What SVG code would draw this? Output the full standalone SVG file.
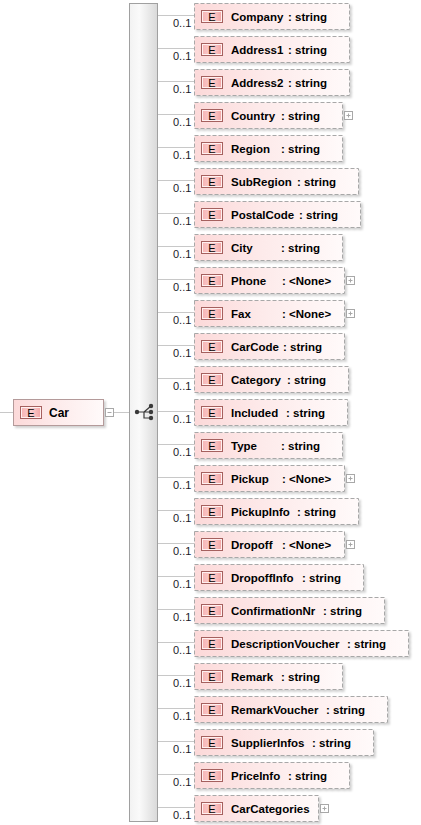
<svg xmlns="http://www.w3.org/2000/svg" width="421" height="825" viewBox="0 0 421 825">
  <style>
    .bg { fill: #ffffff; }
    .conn { stroke: #c8c8c8; stroke-width: 1; fill: none; }
    .elem { fill: url(#pinkFill); stroke: #a8a8a8; stroke-width: 1; stroke-dasharray: 4 2; filter: url(#shadow); }
    .root { fill: url(#pinkFill); stroke: #b49a9a; stroke-width: 1; filter: url(#shadow); }
    .badge { fill: url(#badgeFill); stroke: #a5605e; stroke-width: 1; }
    .badgeHi { fill: none; stroke: #fff0f0; stroke-width: 1; }
    .badgeText { font-family: "Liberation Sans", Arial, sans-serif; font-size: 11px; fill: #000; text-anchor: middle; }
    .label { font-family: "Liberation Sans", Arial, sans-serif; font-size: 11.5px; font-weight: bold; fill: #000; }
    .typeEnd { text-anchor: end; }
    .occ { font-family: "Liberation Sans", Arial, sans-serif; font-size: 11px; fill: #1a1a2a; }
    .tog { fill: #ffffff; stroke: #a8a8a8; stroke-width: 1; }
    .togMark { stroke: #a8a8a8; stroke-width: 1; fill: none; }
    .seqBar { fill: url(#barFill); stroke: #a0a0a0; stroke-width: 1; }
    .dot { fill: #3a3a3a; }
    .seqLine { stroke: #3a3a3a; stroke-width: 1.2; fill: none; }
  </style>
  <defs>
    <linearGradient id="pinkFill" x1="0" y1="0" x2="1" y2="0">
      <stop offset="0" stop-color="#fcd9d9"/>
      <stop offset="0.45" stop-color="#fdeaea"/>
      <stop offset="1" stop-color="#fffafa"/>
    </linearGradient>
    <linearGradient id="badgeFill" x1="0" y1="0" x2="1" y2="0">
      <stop offset="0" stop-color="#f6b2b2"/>
      <stop offset="0.5" stop-color="#fbd0d0"/>
      <stop offset="1" stop-color="#f2a2a2"/>
    </linearGradient>
    <linearGradient id="barFill" x1="0" y1="0" x2="1" y2="0">
      <stop offset="0" stop-color="#f2f2f2"/>
      <stop offset="0.35" stop-color="#fafafa"/>
      <stop offset="1" stop-color="#d9d9d9"/>
    </linearGradient>
    <filter id="shadow" x="-10%" y="-20%" width="130%" height="160%">
      <feDropShadow dx="2" dy="2" stdDeviation="1" flood-color="#000" flood-opacity="0.18"/>
    </filter>
    <g id="plusBox">
      <rect class="tog" x="0" y="0" width="8" height="8"/>
      <path class="togMark" d="M2 4 H6 M4 2 V6"/>
    </g>
  </defs>

  <rect class="bg" x="0" y="0" width="421" height="825"/>

  <!-- connectors -->
  <g id="connectors">
    <path class="conn" d="M0 412.5 H13.5"/>
    <path class="conn" d="M113.5 412.5 H136"/>
    <path class="conn" d="M157.5 15.5 H194 M157.5 48.5 H194 M157.5 81.5 H194 M157.5 114.5 H194 M157.5 147.5 H194 M157.5 180.5 H194 M157.5 213.5 H194 M157.5 246.5 H194 M157.5 279.5 H194 M157.5 312.5 H194 M157.5 345.5 H194 M157.5 378.5 H194 M153 411.5 H194 M157.5 444.5 H194 M157.5 477.5 H194 M157.5 510.5 H194 M157.5 543.5 H194 M157.5 576.5 H194 M157.5 609.5 H194 M157.5 642.5 H194 M157.5 675.5 H194 M157.5 708.5 H194 M157.5 741.5 H194 M157.5 774.5 H194 M157.5 807.5 H194"/>
  </g>

  <!-- root element -->
  <g id="car">
    <rect class="root" x="13.5" y="399.5" width="90" height="26"/>
    <rect class="badge" x="20.5" y="406.5" width="21" height="12"/>
    <rect class="badgeHi" x="21.5" y="407.5" width="19" height="10"/>
    <text class="badgeText" x="31" y="416.5">E</text>
    <text class="label" x="49" y="416.5" style="font-size:12px">Car</text>
    <rect class="tog" x="105.5" y="408.5" width="8" height="8"/>
    <path class="togMark" d="M107.5 412.5 H111.5"/>
  </g>

  <!-- sequence compositor -->
  <g id="sequence">
    <rect class="seqBar" x="129.5" y="3.5" width="28" height="818"/>
    <path class="seqLine" d="M137 412 H144 M144 412 L151 406 M144 412 H151 M144 412 V418 H151"/>
    <circle class="dot" cx="137" cy="412" r="2.2"/>
    <circle class="dot" cx="151" cy="406" r="2.2"/>
    <circle class="dot" cx="151" cy="412" r="2.2"/>
    <circle class="dot" cx="151" cy="418" r="2.2"/>
  </g>

  <!-- child elements -->
  <g id="company">
    <rect class="elem" x="194.5" y="3.5" width="155" height="26"/>
    <rect class="badge" x="201.5" y="10.5" width="21" height="12"/><rect class="badgeHi" x="202.5" y="11.5" width="19" height="10"/>
    <text class="badgeText" x="212" y="20.5">E</text>
    <text class="label"><tspan x="231" y="21">Company</tspan><tspan class="typeEnd" x="327" y="21">: string</tspan></text>
    <text class="occ" x="173" y="27">0..1</text>
  </g>
  <g id="address1">
    <rect class="elem" x="194.5" y="36.5" width="155" height="26"/>
    <rect class="badge" x="201.5" y="43.5" width="21" height="12"/><rect class="badgeHi" x="202.5" y="44.5" width="19" height="10"/>
    <text class="badgeText" x="212" y="53.5">E</text>
    <text class="label"><tspan x="231" y="54">Address1</tspan><tspan class="typeEnd" x="327" y="54">: string</tspan></text>
    <text class="occ" x="173" y="60">0..1</text>
  </g>
  <g id="address2">
    <rect class="elem" x="194.5" y="69.5" width="155" height="26"/>
    <rect class="badge" x="201.5" y="76.5" width="21" height="12"/><rect class="badgeHi" x="202.5" y="77.5" width="19" height="10"/>
    <text class="badgeText" x="212" y="86.5">E</text>
    <text class="label"><tspan x="231" y="87">Address2</tspan><tspan class="typeEnd" x="327" y="87">: string</tspan></text>
    <text class="occ" x="173" y="93">0..1</text>
  </g>
  <g id="country">
    <rect class="elem" x="194.5" y="102.5" width="148" height="26"/>
    <rect class="badge" x="201.5" y="109.5" width="21" height="12"/><rect class="badgeHi" x="202.5" y="110.5" width="19" height="10"/>
    <text class="badgeText" x="212" y="119.5">E</text>
    <text class="label"><tspan x="231" y="120">Country</tspan><tspan class="typeEnd" x="320" y="120">: string</tspan></text>
    <use href="#plusBox" x="344.5" y="111.5"/>
    <text class="occ" x="173" y="126">0..1</text>
  </g>
  <g id="region">
    <rect class="elem" x="194.5" y="135.5" width="148" height="26"/>
    <rect class="badge" x="201.5" y="142.5" width="21" height="12"/><rect class="badgeHi" x="202.5" y="143.5" width="19" height="10"/>
    <text class="badgeText" x="212" y="152.5">E</text>
    <text class="label"><tspan x="231" y="153">Region</tspan><tspan class="typeEnd" x="320" y="153">: string</tspan></text>
    <text class="occ" x="173" y="159">0..1</text>
  </g>
  <g id="subregion">
    <rect class="elem" x="194.5" y="168.5" width="164" height="26"/>
    <rect class="badge" x="201.5" y="175.5" width="21" height="12"/><rect class="badgeHi" x="202.5" y="176.5" width="19" height="10"/>
    <text class="badgeText" x="212" y="185.5">E</text>
    <text class="label"><tspan x="231" y="186">SubRegion</tspan><tspan class="typeEnd" x="336" y="186">: string</tspan></text>
    <text class="occ" x="173" y="192">0..1</text>
  </g>
  <g id="postalcode">
    <rect class="elem" x="194.5" y="201.5" width="166" height="26"/>
    <rect class="badge" x="201.5" y="208.5" width="21" height="12"/><rect class="badgeHi" x="202.5" y="209.5" width="19" height="10"/>
    <text class="badgeText" x="212" y="218.5">E</text>
    <text class="label"><tspan x="231" y="219">PostalCode</tspan><tspan class="typeEnd" x="338" y="219">: string</tspan></text>
    <text class="occ" x="173" y="225">0..1</text>
  </g>
  <g id="city">
    <rect class="elem" x="194.5" y="234.5" width="148" height="26"/>
    <rect class="badge" x="201.5" y="241.5" width="21" height="12"/><rect class="badgeHi" x="202.5" y="242.5" width="19" height="10"/>
    <text class="badgeText" x="212" y="251.5">E</text>
    <text class="label"><tspan x="231" y="252">City</tspan><tspan class="typeEnd" x="320" y="252">: string</tspan></text>
    <text class="occ" x="173" y="258">0..1</text>
  </g>
  <g id="phone">
    <rect class="elem" x="194.5" y="267.5" width="150" height="26"/>
    <rect class="badge" x="201.5" y="274.5" width="21" height="12"/><rect class="badgeHi" x="202.5" y="275.5" width="19" height="10"/>
    <text class="badgeText" x="212" y="284.5">E</text>
    <text class="label"><tspan x="231" y="285">Phone</tspan><tspan x="282" y="285">: &lt;None&gt;</tspan></text>
    <use href="#plusBox" x="346.5" y="276.5"/>
    <text class="occ" x="173" y="291">0..1</text>
  </g>
  <g id="fax">
    <rect class="elem" x="194.5" y="300.5" width="150" height="26"/>
    <rect class="badge" x="201.5" y="307.5" width="21" height="12"/><rect class="badgeHi" x="202.5" y="308.5" width="19" height="10"/>
    <text class="badgeText" x="212" y="317.5">E</text>
    <text class="label"><tspan x="231" y="318">Fax</tspan><tspan x="282" y="318">: &lt;None&gt;</tspan></text>
    <use href="#plusBox" x="346.5" y="309.5"/>
    <text class="occ" x="173" y="324">0..1</text>
  </g>
  <g id="carcode">
    <rect class="elem" x="194.5" y="333.5" width="150" height="26"/>
    <rect class="badge" x="201.5" y="340.5" width="21" height="12"/><rect class="badgeHi" x="202.5" y="341.5" width="19" height="10"/>
    <text class="badgeText" x="212" y="350.5">E</text>
    <text class="label"><tspan x="231" y="351">CarCode</tspan><tspan class="typeEnd" x="322" y="351">: string</tspan></text>
    <text class="occ" x="173" y="357">0..1</text>
  </g>
  <g id="category">
    <rect class="elem" x="194.5" y="366.5" width="154" height="26"/>
    <rect class="badge" x="201.5" y="373.5" width="21" height="12"/><rect class="badgeHi" x="202.5" y="374.5" width="19" height="10"/>
    <text class="badgeText" x="212" y="383.5">E</text>
    <text class="label"><tspan x="231" y="384">Category</tspan><tspan class="typeEnd" x="326" y="384">: string</tspan></text>
    <text class="occ" x="173" y="390">0..1</text>
  </g>
  <g id="included">
    <rect class="elem" x="194.5" y="399.5" width="153" height="26"/>
    <rect class="badge" x="201.5" y="406.5" width="21" height="12"/><rect class="badgeHi" x="202.5" y="407.5" width="19" height="10"/>
    <text class="badgeText" x="212" y="416.5">E</text>
    <text class="label"><tspan x="231" y="417">Included</tspan><tspan class="typeEnd" x="325" y="417">: string</tspan></text>
    <text class="occ" x="173" y="423">0..1</text>
  </g>
  <g id="type">
    <rect class="elem" x="194.5" y="432.5" width="148" height="26"/>
    <rect class="badge" x="201.5" y="439.5" width="21" height="12"/><rect class="badgeHi" x="202.5" y="440.5" width="19" height="10"/>
    <text class="badgeText" x="212" y="449.5">E</text>
    <text class="label"><tspan x="231" y="450">Type</tspan><tspan class="typeEnd" x="320" y="450">: string</tspan></text>
    <text class="occ" x="173" y="456">0..1</text>
  </g>
  <g id="pickup">
    <rect class="elem" x="194.5" y="465.5" width="150" height="26"/>
    <rect class="badge" x="201.5" y="472.5" width="21" height="12"/><rect class="badgeHi" x="202.5" y="473.5" width="19" height="10"/>
    <text class="badgeText" x="212" y="482.5">E</text>
    <text class="label"><tspan x="231" y="483">Pickup</tspan><tspan x="282" y="483">: &lt;None&gt;</tspan></text>
    <use href="#plusBox" x="346.5" y="474.5"/>
    <text class="occ" x="173" y="489">0..1</text>
  </g>
  <g id="pickupinfo">
    <rect class="elem" x="194.5" y="498.5" width="164" height="26"/>
    <rect class="badge" x="201.5" y="505.5" width="21" height="12"/><rect class="badgeHi" x="202.5" y="506.5" width="19" height="10"/>
    <text class="badgeText" x="212" y="515.5">E</text>
    <text class="label"><tspan x="231" y="516">PickupInfo</tspan><tspan class="typeEnd" x="336" y="516">: string</tspan></text>
    <text class="occ" x="173" y="522">0..1</text>
  </g>
  <g id="dropoff">
    <rect class="elem" x="194.5" y="531.5" width="150" height="26"/>
    <rect class="badge" x="201.5" y="538.5" width="21" height="12"/><rect class="badgeHi" x="202.5" y="539.5" width="19" height="10"/>
    <text class="badgeText" x="212" y="548.5">E</text>
    <text class="label"><tspan x="231" y="549">Dropoff</tspan><tspan x="282" y="549">: &lt;None&gt;</tspan></text>
    <use href="#plusBox" x="346.5" y="540.5"/>
    <text class="occ" x="173" y="555">0..1</text>
  </g>
  <g id="dropoffinfo">
    <rect class="elem" x="194.5" y="564.5" width="169" height="26"/>
    <rect class="badge" x="201.5" y="571.5" width="21" height="12"/><rect class="badgeHi" x="202.5" y="572.5" width="19" height="10"/>
    <text class="badgeText" x="212" y="581.5">E</text>
    <text class="label"><tspan x="231" y="582">DropoffInfo</tspan><tspan class="typeEnd" x="341" y="582">: string</tspan></text>
    <text class="occ" x="173" y="588">0..1</text>
  </g>
  <g id="confirmationnr">
    <rect class="elem" x="194.5" y="597.5" width="190" height="26"/>
    <rect class="badge" x="201.5" y="604.5" width="21" height="12"/><rect class="badgeHi" x="202.5" y="605.5" width="19" height="10"/>
    <text class="badgeText" x="212" y="614.5">E</text>
    <text class="label"><tspan x="231" y="615">ConfirmationNr</tspan><tspan class="typeEnd" x="362" y="615">: string</tspan></text>
    <text class="occ" x="173" y="621">0..1</text>
  </g>
  <g id="descriptionvoucher">
    <rect class="elem" x="194.5" y="630.5" width="214" height="26"/>
    <rect class="badge" x="201.5" y="637.5" width="21" height="12"/><rect class="badgeHi" x="202.5" y="638.5" width="19" height="10"/>
    <text class="badgeText" x="212" y="647.5">E</text>
    <text class="label"><tspan x="231" y="648">DescriptionVoucher</tspan><tspan class="typeEnd" x="386" y="648">: string</tspan></text>
    <text class="occ" x="173" y="654">0..1</text>
  </g>
  <g id="remark">
    <rect class="elem" x="194.5" y="663.5" width="148" height="26"/>
    <rect class="badge" x="201.5" y="670.5" width="21" height="12"/><rect class="badgeHi" x="202.5" y="671.5" width="19" height="10"/>
    <text class="badgeText" x="212" y="680.5">E</text>
    <text class="label"><tspan x="231" y="681">Remark</tspan><tspan class="typeEnd" x="320" y="681">: string</tspan></text>
    <text class="occ" x="173" y="687">0..1</text>
  </g>
  <g id="remarkvoucher">
    <rect class="elem" x="194.5" y="696.5" width="193" height="26"/>
    <rect class="badge" x="201.5" y="703.5" width="21" height="12"/><rect class="badgeHi" x="202.5" y="704.5" width="19" height="10"/>
    <text class="badgeText" x="212" y="713.5">E</text>
    <text class="label"><tspan x="231" y="714">RemarkVoucher</tspan><tspan class="typeEnd" x="365" y="714">: string</tspan></text>
    <text class="occ" x="173" y="720">0..1</text>
  </g>
  <g id="supplierinfos">
    <rect class="elem" x="194.5" y="729.5" width="179" height="26"/>
    <rect class="badge" x="201.5" y="736.5" width="21" height="12"/><rect class="badgeHi" x="202.5" y="737.5" width="19" height="10"/>
    <text class="badgeText" x="212" y="746.5">E</text>
    <text class="label"><tspan x="231" y="747">SupplierInfos</tspan><tspan class="typeEnd" x="351" y="747">: string</tspan></text>
    <text class="occ" x="173" y="753">0..1</text>
  </g>
  <g id="priceinfo">
    <rect class="elem" x="194.5" y="762.5" width="155" height="26"/>
    <rect class="badge" x="201.5" y="769.5" width="21" height="12"/><rect class="badgeHi" x="202.5" y="770.5" width="19" height="10"/>
    <text class="badgeText" x="212" y="779.5">E</text>
    <text class="label"><tspan x="231" y="780">PriceInfo</tspan><tspan class="typeEnd" x="327" y="780">: string</tspan></text>
    <text class="occ" x="173" y="786">0..1</text>
  </g>
  <g id="carcategories">
    <rect class="elem" x="194.5" y="795.5" width="124" height="26"/>
    <rect class="badge" x="201.5" y="802.5" width="21" height="12"/><rect class="badgeHi" x="202.5" y="803.5" width="19" height="10"/>
    <text class="badgeText" x="212" y="812.5">E</text>
    <text class="label" x="231" y="813">CarCategories</text>
    <use href="#plusBox" x="320.5" y="804.5"/>
    <text class="occ" x="173" y="819">0..1</text>
  </g>
</svg>
